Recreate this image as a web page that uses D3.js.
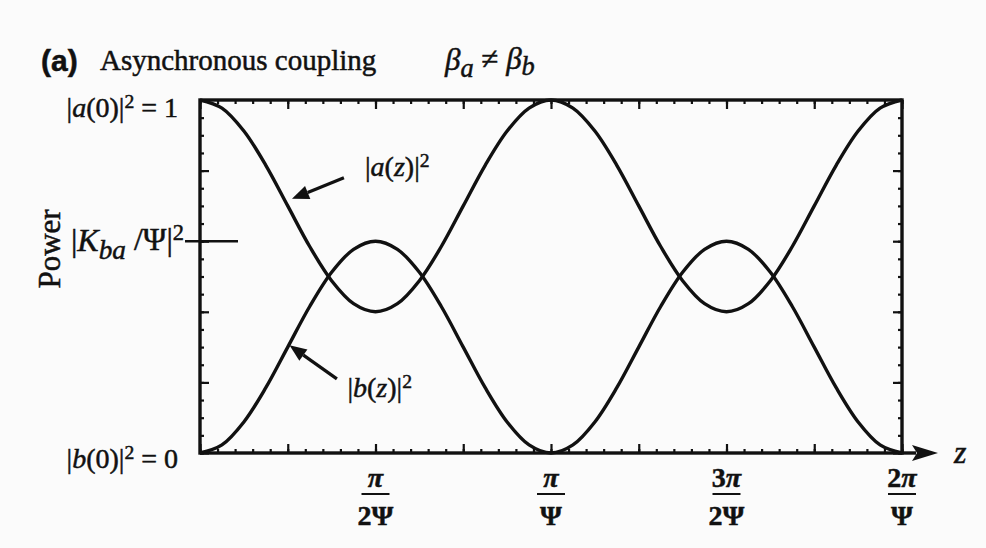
<!DOCTYPE html>
<html>
<head>
<meta charset="utf-8">
<script src="https://cdn.jsdelivr.net/npm/d3@7"></script>
<style>
  html, body { margin: 0; padding: 0; background: #fbfbfb; }
  svg { display: block; }
  text { font-family: "Liberation Serif", "Times New Roman", serif; fill: #111; stroke: #111; stroke-width: 0.5px; }
</style>
</head>
<body>
<svg id="chart" width="986" height="548"></svg>
<script>
// Propagation distance z, in units of π/Ψ
const zSamples = [
  0, 0.0625, 0.125, 0.1875, 0.25, 0.3125, 0.375, 0.4375, 0.5,
  0.5625, 0.625, 0.6875, 0.75, 0.8125, 0.875, 0.9375, 1,
  1.0625, 1.125, 1.1875, 1.25, 1.3125, 1.375, 1.4375, 1.5,
  1.5625, 1.625, 1.6875, 1.75, 1.8125, 1.875, 1.9375, 2
];
// Power in waveguide a, |a(z)|^2
const powerA = [
  1, 0.977, 0.912, 0.815, 0.700, 0.585, 0.488, 0.423, 0.400,
  0.423, 0.488, 0.585, 0.700, 0.815, 0.912, 0.977, 1,
  0.977, 0.912, 0.815, 0.700, 0.585, 0.488, 0.423, 0.400,
  0.423, 0.488, 0.585, 0.700, 0.815, 0.912, 0.977, 1
];
// Power in waveguide b, |b(z)|^2
const powerB = [
  0, 0.023, 0.088, 0.185, 0.300, 0.415, 0.512, 0.577, 0.600,
  0.577, 0.512, 0.415, 0.300, 0.185, 0.088, 0.023, 0,
  0.023, 0.088, 0.185, 0.300, 0.415, 0.512, 0.577, 0.600,
  0.577, 0.512, 0.415, 0.300, 0.185, 0.088, 0.023, 0
];
// Maximum coupled power |K_ba/Ψ|^2
const maxTransfer = 0.6;

// Labelled positions on the z axis
const xTickValues = [0.5, 1, 1.5, 2];
const xTickNumPrefix = ["", "", "3", "2"];
const xTickDenominators = ["2Ψ", "Ψ", "2Ψ", "Ψ"];

const svg = d3.select("#chart");
const ink = "#111";

const x = d3.scaleLinear().domain([0, 2]).range([200, 902]);
const y = d3.scaleLinear().domain([0, 1]).range([453, 100]);

// ---- tick marks on all four sides, pointing inward ----
const xMinor = d3.range(0, 2.0001, 0.05);
const xMajor = d3.range(0, 2.0001, 0.25);
const yMinor = d3.range(0, 1.0001, 0.05);
const yMajor = d3.range(0, 1.0001, 0.2);

function styleAxis(g) {
  g.select(".domain").remove();
  g.selectAll(".tick line").attr("stroke", ink).attr("stroke-width", 2.2);
  g.selectAll(".tick text").remove();
}

const axes = svg.append("g");
[[xMinor, 4], [xMajor, 9]].forEach(([vals, len]) => {
  axes.append("g").attr("transform", `translate(0,${y(0)})`)
    .call(d3.axisBottom(x).tickValues(vals).tickSize(-len)).call(styleAxis);
  axes.append("g").attr("transform", `translate(0,${y(1)})`)
    .call(d3.axisTop(x).tickValues(vals).tickSize(-len)).call(styleAxis);
});
[[yMinor, 4], [yMajor, 9]].forEach(([vals, len]) => {
  axes.append("g").attr("transform", `translate(${x(0)},0)`)
    .call(d3.axisLeft(y).tickValues(vals).tickSize(-len)).call(styleAxis);
  axes.append("g").attr("transform", `translate(${x(2)},0)`)
    .call(d3.axisRight(y).tickValues(vals).tickSize(-len)).call(styleAxis);
});

// frame
svg.append("rect")
  .attr("x", x(0)).attr("y", y(1))
  .attr("width", x(2) - x(0)).attr("height", y(0) - y(1))
  .attr("fill", "none").attr("stroke", ink).attr("stroke-width", 3.4);

// z-axis arrow beyond the frame
svg.append("line")
  .attr("x1", x(2)).attr("x2", x(2) + 14)
  .attr("y1", y(0)).attr("y2", y(0))
  .attr("stroke", ink).attr("stroke-width", 3.4);
svg.append("path")
  .attr("d", `M${x(2) + 10},${y(0) - 8} L${x(2) + 36},${y(0)} L${x(2) + 10},${y(0) + 8} L${x(2) + 15},${y(0)} Z`)
  .attr("fill", ink);
svg.append("text")
  .attr("x", x(2) + 52).attr("y", y(0) + 10)
  .attr("font-size", 32).attr("font-style", "italic")
  .text("z");

// |K_ba/Ψ|^2 level marker
svg.append("line")
  .attr("x1", x(0) - 15).attr("x2", x(0) + 38)
  .attr("y1", y(maxTransfer)).attr("y2", y(maxTransfer))
  .attr("stroke", ink).attr("stroke-width", 2.6);

// ---- curves ----
const line = d3.line()
  .x((d, i) => x(zSamples[i]))
  .y(d => y(d))
  .curve(d3.curveCatmullRom.alpha(0.5));

[powerA, powerB].forEach(series => {
  svg.append("path")
    .datum(series)
    .attr("d", line)
    .attr("fill", "none")
    .attr("stroke", ink)
    .attr("stroke-width", 3.4)
    .attr("stroke-linejoin", "round");
});

// ---- z-axis fraction labels ----
const xl = svg.append("g").selectAll("g")
  .data(xTickValues)
  .join("g")
  .attr("transform", d => `translate(${x(d)},0)`);

xl.append("text")
  .attr("y", y(0) + 34)
  .attr("text-anchor", "middle")
  .attr("font-size", 28).attr("font-weight", "bold")
  .each(function (d, i) {
    const t = d3.select(this);
    if (xTickNumPrefix[i]) t.append("tspan").text(xTickNumPrefix[i]);
    t.append("tspan").attr("font-style", "italic").text("π");
  });
xl.append("line")
  .attr("x1", -14).attr("x2", 14)
  .attr("y1", y(0) + 41).attr("y2", y(0) + 41)
  .attr("stroke", ink).attr("stroke-width", 2);
xl.append("text")
  .attr("y", y(0) + 72)
  .attr("text-anchor", "middle")
  .attr("font-size", 28).attr("font-weight", "bold")
  .text((d, i) => xTickDenominators[i]);

// ---- left-side value labels ----
function powerLabel(sel, wave, zArg, tail) {
  sel.append("tspan").text("|");
  sel.append("tspan").attr("font-style", "italic").text(wave);
  sel.append("tspan").text("(");
  sel.append("tspan").attr("font-style", zArg === "z" ? "italic" : "normal").text(zArg);
  sel.append("tspan").text(")|");
  sel.append("tspan").attr("font-size", "0.7em").attr("dy", "-0.45em").text("2");
  if (tail) sel.append("tspan").attr("dy", "0.32em").text(tail);
}

svg.append("text")
  .attr("x", 178).attr("y", y(1) + 17)
  .attr("text-anchor", "end").attr("font-size", 28)
  .call(powerLabel, "a", "0", " = 1");
svg.append("text")
  .attr("x", 178).attr("y", y(0) + 15)
  .attr("text-anchor", "end").attr("font-size", 28)
  .call(powerLabel, "b", "0", " = 0");

const kl = svg.append("text")
  .attr("x", 184).attr("y", y(maxTransfer) + 10)
  .attr("text-anchor", "end").attr("font-size", 32);
kl.append("tspan").text("|");
kl.append("tspan").attr("font-style", "italic").text("K");
kl.append("tspan").attr("font-style", "italic").attr("font-size", "0.85em").attr("dy", "0.3em").text("ba");
kl.append("tspan").attr("dy", "-0.3em").text(" /Ψ|");
kl.append("tspan").attr("font-size", "0.7em").attr("dy", "-0.45em").text("2");

// axis title
svg.append("text")
  .attr("transform", "translate(60,249) rotate(-90)")
  .attr("text-anchor", "middle").attr("font-size", 31)
  .text("Power");

// ---- heading ----
svg.append("text")
  .attr("x", 41).attr("y", 71)
  .style("font-family", "'Liberation Sans', Arial, sans-serif")
  .attr("font-weight", "bold").attr("font-size", 30)
  .text("(a)");
svg.append("text")
  .attr("x", 100).attr("y", 70).attr("font-size", 29)
  .text("Asynchronous coupling");
const bt = svg.append("text").attr("x", 445).attr("y", 70).attr("font-size", 31);
bt.append("tspan").attr("font-style", "italic").text("β");
bt.append("tspan").attr("font-style", "italic").attr("font-size", "0.85em").attr("dy", "0.25em").text("a");
bt.append("tspan").attr("dy", "-0.25em").text(" ≠ ");
bt.append("tspan").attr("font-style", "italic").text("β");
bt.append("tspan").attr("font-style", "italic").attr("font-size", "0.85em").attr("dy", "0.25em").text("b");

// ---- curve annotations with pointer arrows ----
function pointer(fromZ, fromP, toZ, toP) {
  const x1 = x(fromZ), y1 = y(fromP), x2 = x(toZ), y2 = y(toP);
  const ang = Math.atan2(y2 - y1, x2 - x1);
  const head = 17, half = 7;
  const bx = x2 - head * Math.cos(ang), by = y2 - head * Math.sin(ang);
  svg.append("line")
    .attr("x1", x1).attr("y1", y1).attr("x2", bx).attr("y2", by)
    .attr("stroke", ink).attr("stroke-width", 3.2);
  svg.append("path")
    .attr("d", `M${x2},${y2} L${bx - half * Math.sin(ang)},${by + half * Math.cos(ang)} L${bx + half * Math.sin(ang)},${by - half * Math.cos(ang)} Z`)
    .attr("fill", ink);
}

pointer(0.41, 0.78, 0.262, 0.72);
svg.append("text")
  .attr("x", x(0.47)).attr("y", y(0.785)).attr("font-size", 28)
  .call(powerLabel, "a", "z", null);

pointer(0.39, 0.21, 0.255, 0.305);
svg.append("text")
  .attr("x", x(0.42)).attr("y", y(0.16)).attr("font-size", 28)
  .call(powerLabel, "b", "z", null);
</script>
</body>
</html>
